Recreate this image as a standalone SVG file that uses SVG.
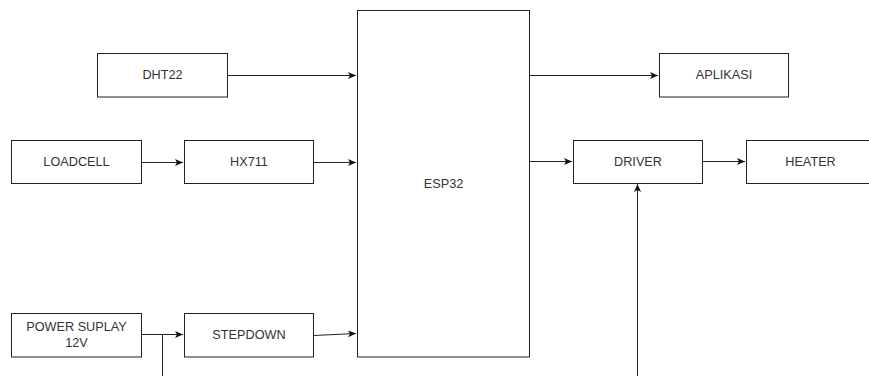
<svg xmlns="http://www.w3.org/2000/svg" width="869" height="376" viewBox="0 0 869 376">
<defs>
<marker id="arr" markerUnits="userSpaceOnUse" markerWidth="10" markerHeight="8" refX="8" refY="4" orient="auto">
<path d="M0,0.5 L8,4 L0,7.5 L2,4 z" fill="#111"/>
</marker>
<style>
.box{fill:#fff;stroke:#222;stroke-width:1}
.lbl{font-family:"Liberation Sans",Arial,sans-serif;font-size:12.7px;fill:#333;text-anchor:middle;dominant-baseline:central}
.ln{fill:none;stroke:#222;stroke-width:1}
</style>
</defs>
<rect width="869" height="376" fill="#fff"/>
<g id="connectors">
<path class="ln" d="M227.5,75.5 H356" marker-end="url(#arr)"/>
<path class="ln" d="M141.5,162.5 H183" marker-end="url(#arr)"/>
<path class="ln" d="M313.5,162.5 H356" marker-end="url(#arr)"/>
<path class="ln" d="M141.5,334.5 H183" marker-end="url(#arr)"/>
<path class="ln" d="M162.5,334.5 V376"/>
<path class="ln" d="M313.5,335.5 L356,333.5" marker-end="url(#arr)"/>
<path class="ln" d="M529.5,75.5 H658" marker-end="url(#arr)"/>
<path class="ln" d="M529.5,161.5 H572" marker-end="url(#arr)"/>
<path class="ln" d="M702.5,161.5 H745" marker-end="url(#arr)"/>
<path class="ln" d="M637.5,376 V184" marker-end="url(#arr)"/>
</g>
<g id="esp32"><rect class="box" x="357.5" y="10.5" width="172" height="346.5"/><text class="lbl" x="443.5" y="184">ESP32</text></g>
<g id="dht22"><rect class="box" x="97.5" y="53.5" width="130" height="43.5"/><text class="lbl" x="162.5" y="75">DHT22</text></g>
<g id="loadcell"><rect class="box" x="11.5" y="140.5" width="130" height="43"/><text class="lbl" x="76.5" y="162">LOADCELL</text></g>
<g id="hx711"><rect class="box" x="184.5" y="140.5" width="129" height="43"/><text class="lbl" x="249" y="162">HX711</text></g>
<g id="powersupply"><rect class="box" x="11.5" y="313.5" width="130" height="43.5"/><text class="lbl" x="76.5" y="326.7">POWER SUPLAY</text><text class="lbl" x="76.5" y="343.3">12V</text></g>
<g id="stepdown"><rect class="box" x="184.5" y="313.5" width="129" height="43.5"/><text class="lbl" x="249" y="335">STEPDOWN</text></g>
<g id="aplikasi"><rect class="box" x="659.5" y="53.5" width="129" height="43.5"/><text class="lbl" x="724" y="75">APLIKASI</text></g>
<g id="driver"><rect class="box" x="573.5" y="140.5" width="129" height="43"/><text class="lbl" x="638" y="161.5">DRIVER</text></g>
<g id="heater"><rect class="box" x="746.5" y="140.5" width="129" height="43"/><text class="lbl" x="810.5" y="161.5">HEATER</text></g>
</svg>
